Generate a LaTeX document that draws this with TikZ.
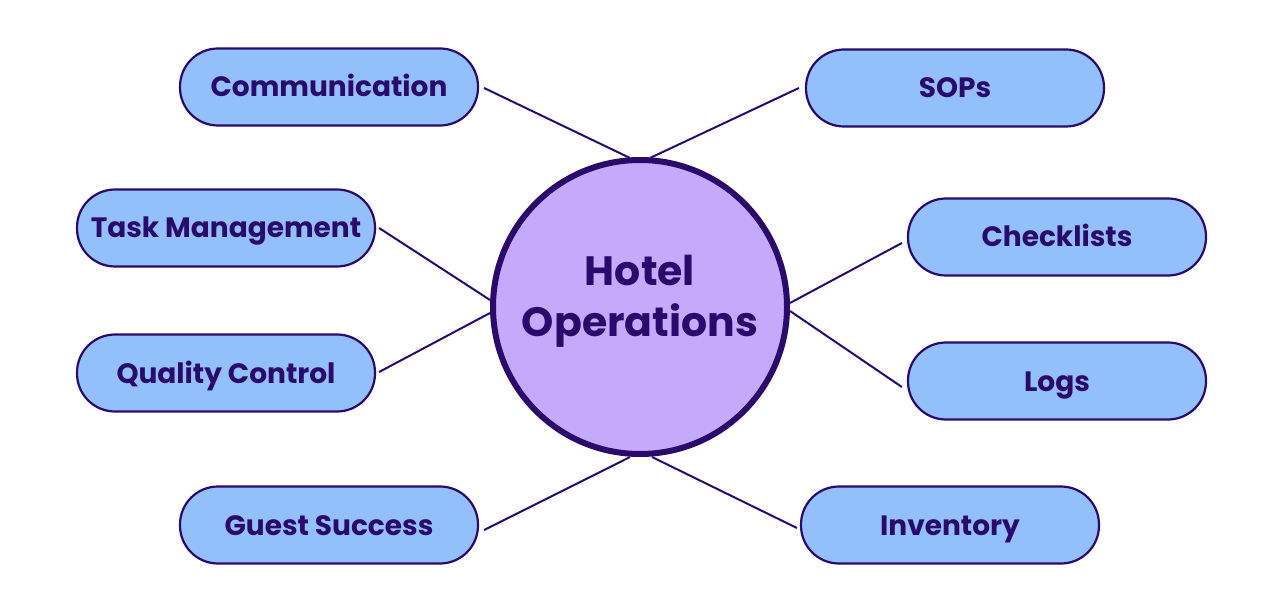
\documentclass[tikz,border=0pt]{standalone}
\usepackage{fontspec}
\setmainfont{Poppins}
\usetikzlibrary{calc}
\definecolor{boxfill}{HTML}{93BFFA}
\definecolor{ink}{HTML}{2A0B6B}
\definecolor{hubfill}{HTML}{C5AAFC}
\begin{document}
\begin{tikzpicture}[x=1pt,y=-1pt,
  topic/.style={draw=ink, line width=2.2pt, fill=boxfill, rounded corners=38pt,
    minimum width=298pt, minimum height=77pt, inner sep=0pt,
    text height=20pt, text depth=0pt,
    text=ink, font=\fontsize{28}{32}\selectfont\bfseries},
  hub/.style={circle, draw=ink, line width=6pt, fill=hubfill, minimum size=294pt,
    inner sep=0pt},
  hubtext/.style={text=ink, align=center, inner sep=0pt,
    font=\fontsize{41}{51}\selectfont\bfseries},
  link/.style={draw=ink, line width=2pt}]
\useasboundingbox (0,0) rectangle (1280,612);
\node[hub] (hub) at (640,307) {};
\node[hubtext] (hubtxt) at (640,301) {Hotel\\Operations};
\node[topic] (comm) at (329,87) {Communication};
\node[topic] (sops) at (955,88) {SOPs};
\node[topic] (task) at (226,228) {Task Management};
\node[topic] (check) at (1057,237) {Checklists};
\node[topic] (qual) at (226,373) {Quality Control};
\node[topic] (logs) at (1057,381) {Logs};
\node[topic] (guest) at (329,525) {Guest Success};
\node[topic] (inv) at (950,525) {Inventory};
\draw[link] ($(comm.east)+(5,1)$) -- ($(hub.center)+(-10,-149)$);
\draw[link] ($(sops.west)+(-6,0)$) -- ($(hub.center)+(10,-149)$);
\draw[link] ($(task.east)+(3,0)$) -- ($(hub.center)+(-150,-7)$);
\draw[link] ($(qual.east)+(3,-1)$) -- ($(hub.center)+(-150,6)$);
\draw[link] ($(check.west)+(-5,6)$) -- ($(hub.center)+(150,-4)$);
\draw[link] ($(logs.west)+(-5,6)$) -- ($(hub.center)+(150,4)$);
\draw[link] ($(guest.east)+(5,5)$) -- ($(hub.center)+(-10,150)$);
\draw[link] ($(inv.west)+(-3,3)$) -- ($(hub.center)+(12,150)$);
\end{tikzpicture}
\end{document}
